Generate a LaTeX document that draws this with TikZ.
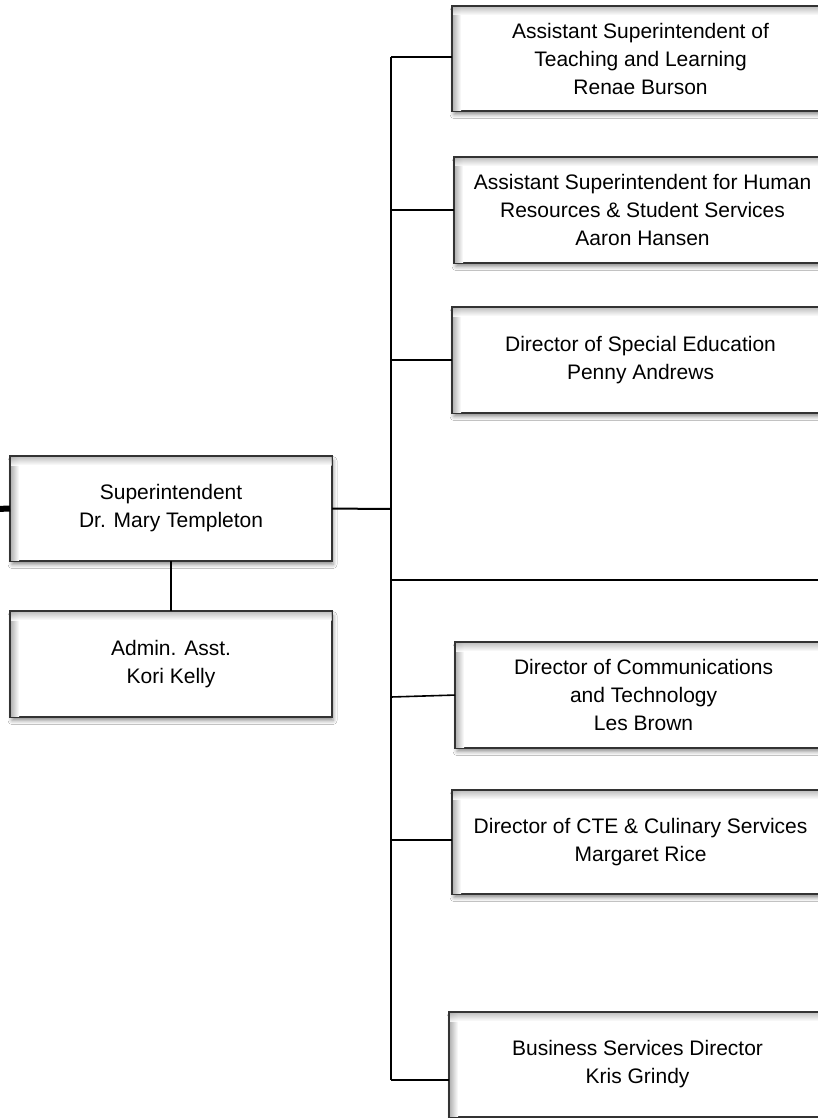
\documentclass[tikz,border=0pt]{standalone}
\usepackage{fontspec}
\setmainfont{Liberation Sans}
\usetikzlibrary{shadows.blur,calc}
\tikzset{
  orgbox/.style={draw=black!80, line width=1.1pt, fill=white, anchor=north west,
    minimum width=376pt, minimum height=104pt, inner sep=0pt, align=center,
    font=\fontsize{21}{28}\selectfont,
    blur shadow={shadow xshift=1.5pt, shadow yshift=-4pt, shadow blur radius=4pt, shadow opacity=45}},
  smallbox/.style={orgbox, minimum width=321pt},
  busline/.style={line width=2pt, black},
  link/.style={line width=1.6pt, black},
}
\newcommand{\glow}[1]{%
  \shade[left color=black!30, right color=white] ($(#1.north west)+(0.6,0.6)$) rectangle ($(#1.south west)+(9,-0.6)$);
  \shade[top color=black!30, bottom color=white, opacity=0.8] ($(#1.north west)+(0.6,0.6)$) rectangle ($(#1.north east)+(-0.6,9)$);
  \draw[draw=black!80, line width=1.1pt] (#1.north west) rectangle (#1.south east);
}
\begin{document}
\begin{tikzpicture}[x=1pt,y=-1pt]
\useasboundingbox (0,0) rectangle (818,1118);
\clip (0,0) rectangle (818,1118);
\fill[white] (0,0) rectangle (818,1118);

% nodes
\node[orgbox] (b1) at (452,6) {Assistant Superintendent of\\Teaching and Learning\\Renae Burson};
\node[orgbox, minimum height=105pt] (b2) at (454,157) {Assistant Superintendent for Human\\Resources \& Student Services\\Aaron Hansen};
\node[orgbox, minimum height=105pt] (b3) at (452,307) {Director of Special Education\\Penny Andrews};
\node[orgbox, minimum height=105pt] (b4) at (455,642) {Director of Communications\\and Technology\\Les Brown};
\node[orgbox, minimum height=103pt] (b5) at (452,790) {Director of CTE \& Culinary Services\\Margaret Rice};
\node[orgbox] (b6) at (449,1012) {Business Services Director\\Kris Grindy};
\node[smallbox] (sup) at (10,456) {Superintendent\\Dr. Mary Templeton};
\node[smallbox, minimum height=105pt] (adm) at (10,611) {Admin. Asst.\\Kori Kelly};

\glow{b1}\glow{b2}\glow{b3}\glow{b4}\glow{b5}\glow{b6}\glow{sup}\glow{adm}

% bus coordinates
\coordinate (t1) at (391,57);
\coordinate (t2) at (391,210);
\coordinate (t3) at (391,360);
\coordinate (tsup) at (391,509);
\coordinate (tmid) at (391,580);
\coordinate (tmidend) at (830,580);
\coordinate (t4) at (391,697);
\coordinate (t5) at (391,840);
\coordinate (t6) at (391,1080);
\coordinate (lstub) at (-5,509);

\draw[busline] (t1) -- (t6);
\draw[link] (t1) -- (t1 -| b1.west);
\draw[link] (t2) -- (t2 -| b2.west);
\draw[link] (t3) -- (t3 -| b3.west);
\draw[link] (tmid) -- (tmidend);
\draw[link] (t4) -- (b4.west);
\draw[link] (t5) -- (t5 -| b5.west);
\draw[link] (t6) -- (t6 -| b6.west);
\draw[busline] (sup.east) -- (tsup);
\draw[line width=6pt] (lstub) -- (sup.west);
\draw[link] (sup.south) -- (adm.north);
\end{tikzpicture}
\end{document}
